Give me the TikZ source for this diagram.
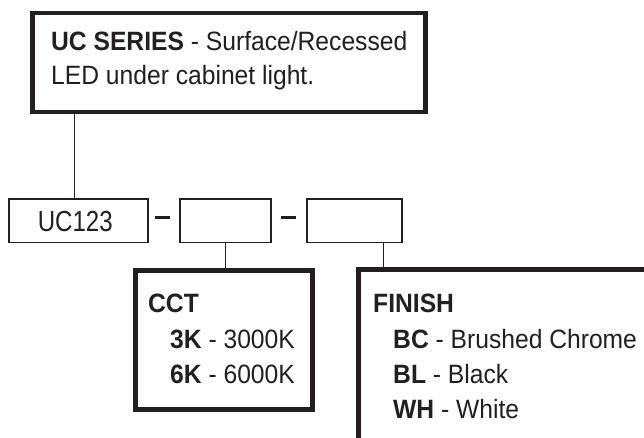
\documentclass[tikz,border=0pt]{standalone}
\usepackage{fontspec}
\setmainfont[FakeStretch=0.93]{Liberation Sans}
\newfontfamily\ucfont[FakeStretch=0.83]{Liberation Sans}
\definecolor{ink}{HTML}{231F20}
\tikzset{
  heavybox/.style={draw=ink, line width=4.5pt, rectangle, inner sep=0pt, anchor=north west},
  thinbox/.style={draw=ink, line width=1.5pt, rectangle, inner sep=0pt, anchor=north west},
  lbl/.style={anchor=base west, inner sep=0pt, text=ink, font=\fontsize{26.5}{30}\selectfont},
  conn/.style={draw=ink, line width=1pt},
  dashmark/.style={draw=ink, line width=3pt}
}
\begin{document}
\begin{tikzpicture}[x=1pt, y=-1pt]
\useasboundingbox (0,0) rectangle (644,438);
\clip (0,0) rectangle (644,438);
\fill[white] (0,0) rectangle (644,438);
% boxes
\node[heavybox, minimum width=393pt, minimum height=99pt] (series) at (30,11) {};
\node[thinbox, minimum width=139pt, minimum height=43pt] (ucbox) at (8,198.5) {};
\node[thinbox, minimum width=91pt, minimum height=43pt] (cctslot) at (179,198.5) {};
\node[thinbox, minimum width=95pt, minimum height=43pt] (finslot) at (306,198.5) {};
\node[heavybox, minimum width=177pt, minimum height=139pt] (cct) at (133,268) {};
\node[heavybox, minimum width=320pt, minimum height=200pt] (finish) at (356,267) {};
% dashes
\coordinate (d1a) at (155,217); \coordinate (d1b) at (170,217);
\coordinate (d2a) at (281,217); \coordinate (d2b) at (296,217);
\draw[dashmark] (d1a) -- (d1b);
\draw[dashmark] (d2a) -- (d2b);
% connectors
\draw[conn] ([xshift=-4pt]ucbox.north) -- ([xshift=-4pt]ucbox.north |- series.south);
\draw[conn] (cctslot.south) -- (cctslot.south |- cct.north);
\draw[conn] ([xshift=-19pt]finslot.south east) -- ([xshift=-19pt]finslot.south east |- finish.north);
% texts
\node[lbl] (t1) at (51,51) {\textbf{UC SERIES} - Surface/Recessed};
\node[lbl] (t2) at (51,85) {LED under cabinet light.};
\node[anchor=base, inner sep=0pt, text=ink, font=\ucfont\fontsize{29}{32}\selectfont] (uct) at ([xshift=-3pt,yshift=-10.5pt]ucbox.center) {UC123};
\node[lbl] (c0) at (148,312) {\textbf{CCT}};
\node[lbl] (c1) at (170,348) {\textbf{3K} - 3000K};
\node[lbl] (c2) at (170,383) {\textbf{6K} - 6000K};
\node[lbl] (f0) at (373,312) {\textbf{FINISH}};
\node[lbl] (f1) at (393,348) {\textbf{BC} - Brushed Chrome};
\node[lbl] (f2) at (393,383) {\textbf{BL} - Black};
\node[lbl] (f3) at (393,418) {\textbf{WH} - White};
\end{tikzpicture}
\end{document}
